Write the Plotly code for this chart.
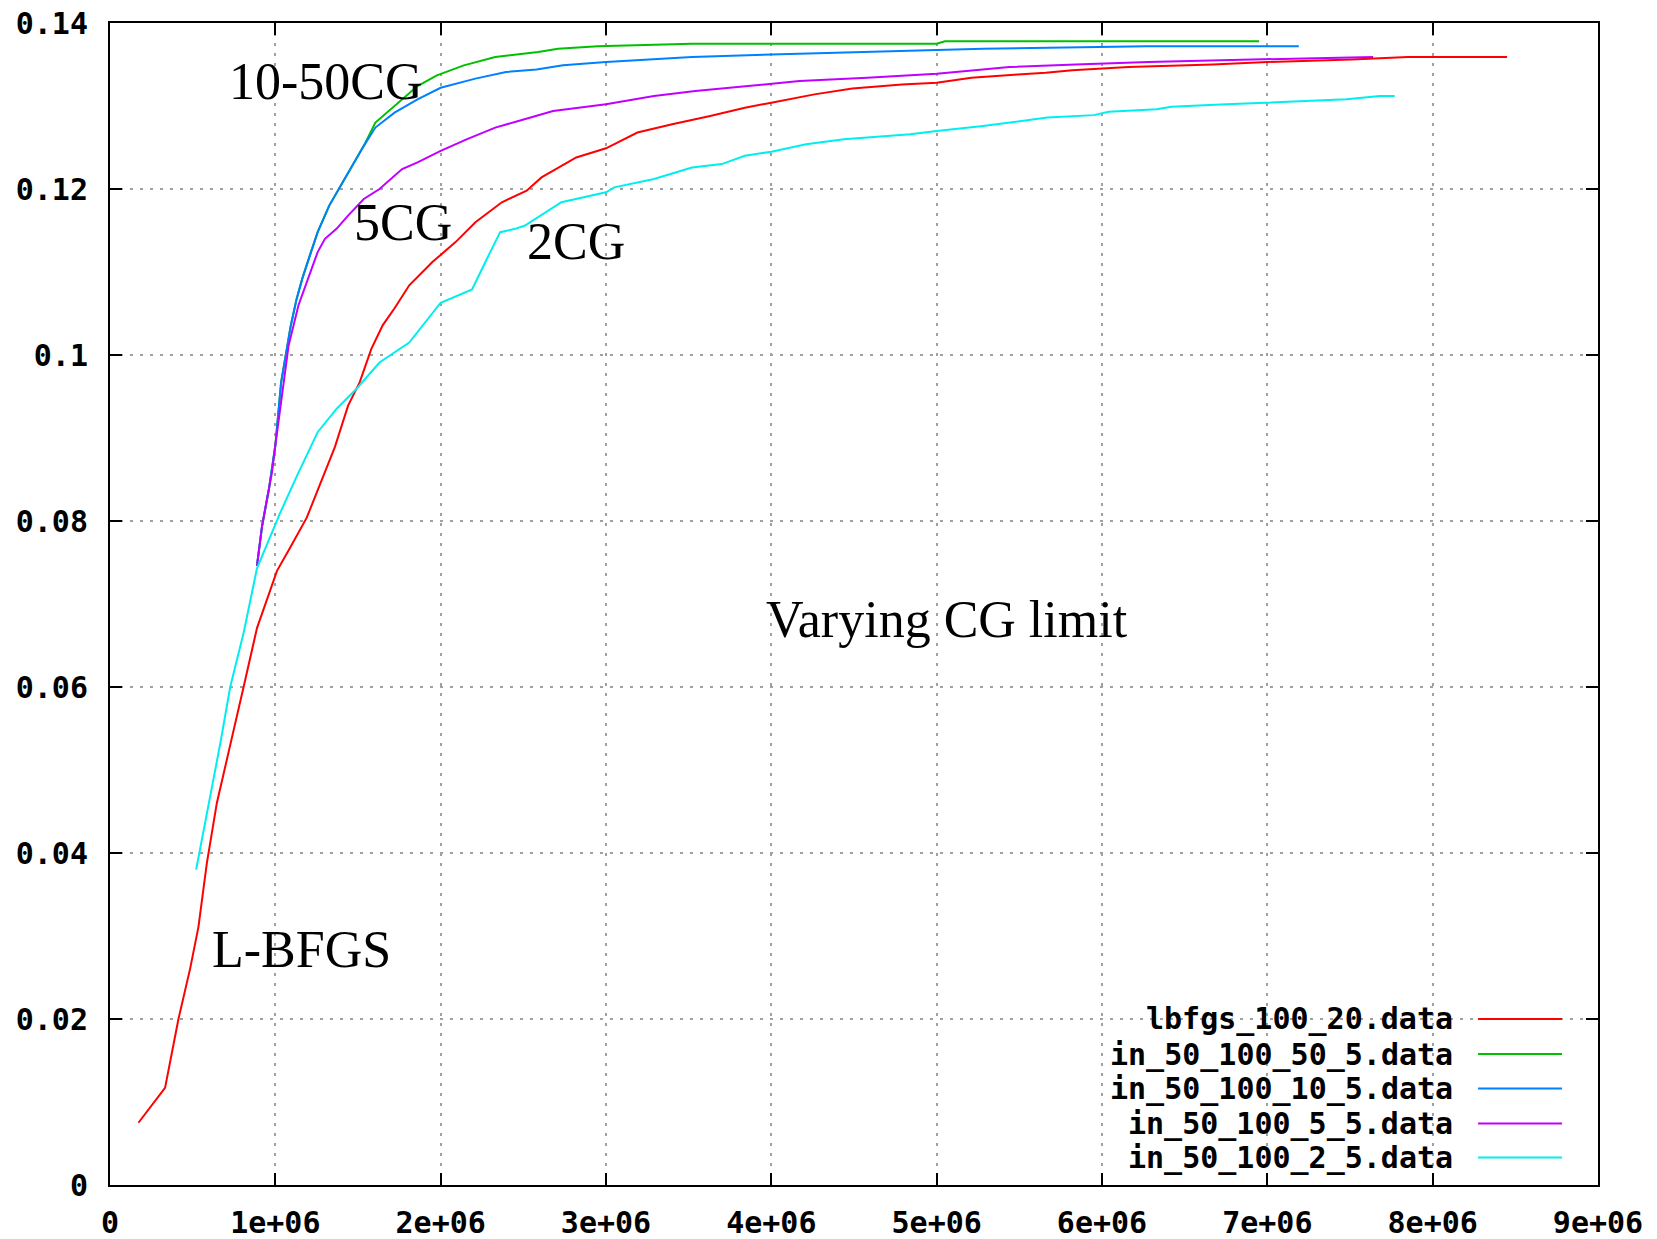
import plotly.graph_objects as go

# ---------------- data ----------------
series_names = ["lbfgs_100_20.data", "in_50_100_50_5.data", "in_50_100_10_5.data",
                "in_50_100_5_5.data", "in_50_100_2_5.data"]
series_colors = ["#ff0000", "#00c000", "#0080ff", "#c000ff", "#00eeee"]

lbfgs_x = [0.172, 0.333, 0.414, 0.485, 0.535, 0.586, 0.646, 0.727, 0.808, 0.889, 0.949, 1.01, 1.09,
           1.19, 1.29, 1.36, 1.44, 1.51, 1.58, 1.65, 1.72, 1.81, 1.95, 2.09, 2.21, 2.37, 2.52, 2.61,
           2.82, 3.0, 3.19, 3.4, 3.63, 3.84, 4.0, 4.26, 4.49, 4.79, 5.0, 5.21, 5.49, 5.66, 5.82, 6.16,
           6.67, 7.0, 7.51, 7.85, 8.45]
lbfgs_y = [0.0075, 0.0117, 0.020, 0.0261, 0.0311, 0.0388, 0.046, 0.0532, 0.060, 0.0671, 0.0704, 0.074,
           0.0768, 0.0804, 0.0854, 0.0889, 0.0939, 0.0967, 0.1007, 0.1036, 0.1056, 0.1084, 0.1112,
           0.1136, 0.116, 0.1184, 0.1198, 0.1214, 0.1238, 0.1249, 0.1268, 0.1278, 0.1288, 0.1298,
           0.1304, 0.1314, 0.1321, 0.1326, 0.1328, 0.1334, 0.1338, 0.134, 0.1343, 0.1347, 0.135,
           0.1353, 0.1356, 0.1359, 0.1359]

cg50_x = [0.889, 0.919, 0.96, 1.0, 1.035, 1.07, 1.093, 1.128, 1.163, 1.209, 1.256, 1.326, 1.395,
          1.465, 1.535, 1.605, 1.721, 1.86, 1.977, 2.14, 2.33, 2.59, 2.71, 2.95, 3.52, 5.0, 5.05, 6.95]
cg50_y = [0.0746, 0.0793, 0.0837, 0.0891, 0.0967, 0.1011, 0.1035, 0.1067, 0.1092, 0.112, 0.1148,
          0.118, 0.1204, 0.1228, 0.1252, 0.128, 0.130, 0.1324, 0.1337, 0.1349, 0.1359, 0.1365,
          0.1369, 0.1372, 0.1375, 0.1375, 0.1378, 0.1378]

cg10_x = [0.889, 0.919, 0.96, 1.0, 1.035, 1.07, 1.093, 1.128, 1.163, 1.209, 1.256, 1.326, 1.395,
          1.465, 1.535, 1.605, 1.721, 1.86, 2.0, 2.21, 2.395, 2.58, 2.74, 3.0, 3.25, 3.52, 4.0, 4.51,
          5.28, 6.27, 7.19]
cg10_y = [0.0746, 0.0793, 0.0837, 0.0891, 0.0967, 0.1011, 0.1035, 0.1067, 0.1092, 0.112, 0.1148,
          0.118, 0.1204, 0.1228, 0.1252, 0.1274, 0.1292, 0.1308, 0.1322, 0.1333, 0.1341, 0.1344,
          0.1349, 0.1353, 0.1356, 0.1359, 0.1362, 0.1365, 0.1369, 0.1372, 0.1372]

cg5_x = [0.889, 0.919, 0.939, 0.96, 0.98, 1.0, 1.08, 1.14, 1.21, 1.256, 1.30, 1.37, 1.44, 1.535,
         1.63, 1.767, 1.86, 2.0, 2.16, 2.33, 2.47, 2.68, 3.0, 3.29, 3.54, 3.91, 4.17, 4.58, 5.0,
         5.23, 5.44, 5.84, 6.28, 6.91, 7.53, 7.64]
cg5_y = [0.0746, 0.0793, 0.0815, 0.0837, 0.0859, 0.0891, 0.1011, 0.106, 0.11, 0.1124, 0.114,
         0.1152, 0.1168, 0.1188, 0.12, 0.1224, 0.1232, 0.1246, 0.126, 0.1274, 0.1282, 0.1294,
         0.1302, 0.1312, 0.1318, 0.1325, 0.133, 0.1334, 0.1339, 0.1343, 0.1347, 0.135, 0.1353,
         0.1356, 0.1359, 0.1359]

cg2_x = [0.521, 0.545, 0.606, 0.667, 0.727, 0.808, 0.889, 0.97, 1.03, 1.13, 1.21, 1.256, 1.37,
         1.49, 1.63, 1.81, 2.0, 2.19, 2.28, 2.36, 2.45, 2.51, 2.73, 3.0, 3.05, 3.29, 3.52, 3.7,
         3.84, 4.0, 4.21, 4.44, 4.84, 5.0, 5.28, 5.58, 5.67, 5.95, 6.04, 6.33, 6.42, 6.75, 7.12,
         7.48, 7.68, 7.77]
cg2_y = [0.038, 0.0405, 0.0466, 0.0532, 0.060, 0.0665, 0.0743, 0.0782, 0.081, 0.0854, 0.0889,
         0.0907, 0.0935, 0.0959, 0.0991, 0.1015, 0.1063, 0.1079, 0.1116, 0.1148, 0.1152, 0.1156,
         0.1184, 0.1196, 0.1202, 0.1212, 0.1226, 0.123, 0.124, 0.1245, 0.1254, 0.126, 0.1266,
         0.127, 0.1276, 0.1283, 0.1286, 0.1289, 0.1293, 0.1296, 0.1299, 0.1302, 0.1305, 0.1308,
         0.1312, 0.1312]

x_scale = 1e6  # x values above are in millions

x_tick_vals = [0, 1e6, 2e6, 3e6, 4e6, 5e6, 6e6, 7e6, 8e6, 9e6]
x_tick_text = ["0", "1e+06", "2e+06", "3e+06", "4e+06", "5e+06", "6e+06", "7e+06", "8e+06", "9e+06"]
y_tick_vals = [0, 0.02, 0.04, 0.06, 0.08, 0.1, 0.12, 0.14]
y_tick_text = ["0", "0.02", "0.04", "0.06", "0.08", "0.1", "0.12", "0.14"]

label_texts = ["10-50CG", "5CG", "2CG", "Varying CG limit", "L-BFGS"]
label_x = [0.708e6, 1.464e6, 2.51e6, 3.956e6, 0.605e6]
label_y = [0.133, 0.116, 0.1137, 0.0681, 0.0284]

# ---------------- figure ----------------
xs = [lbfgs_x, cg50_x, cg10_x, cg5_x, cg2_x]
ys = [lbfgs_y, cg50_y, cg10_y, cg5_y, cg2_y]

fig = go.Figure()
for name, col, xv, yv in zip(series_names, series_colors, xs, ys):
    fig.add_trace(go.Scatter(x=[v * x_scale for v in xv], y=yv, mode="lines", name=name,
                             line=dict(color=col, width=2), showlegend=False))

tick_font = dict(family="DejaVu Sans Mono", size=30, color="black", weight="bold")

# custom gnuplot-style legend (text right, line sample right of text)
leg_row_y = [0.1429, 0.1127, 0.0830, 0.0529, 0.0237]
shapes = []
annotations = []
for name, col, ry in zip(series_names, series_colors, leg_row_y):
    annotations.append(dict(x=0.9039, y=ry, xref="paper", yref="paper", text=name,
                            showarrow=False, xanchor="right", yanchor="middle", font=tick_font))
    shapes.append(dict(type="line", xref="paper", yref="paper", x0=0.9194, x1=0.9758,
                       y0=ry, y1=ry, line=dict(color=col, width=2)))

for t, lx, ly in zip(label_texts, label_x, label_y):
    annotations.append(dict(x=lx, y=ly, xref="x", yref="y", text=t, showarrow=False,
                            xanchor="left", yanchor="middle",
                            font=dict(family="Liberation Serif", size=52, color="black")))

fig.update_layout(
    width=1657, height=1239,
    margin=dict(l=110, r=59, t=23, b=54, autoexpand=False),
    paper_bgcolor="white", plot_bgcolor="white",
    annotations=annotations, shapes=shapes,
    showlegend=False,
)
fig.update_xaxes(range=[0, 9e6], tickvals=x_tick_vals, ticktext=x_tick_text, tickfont=tick_font,
                 showline=True, linecolor="black", linewidth=2, mirror="ticks",
                 ticks="inside", ticklen=12, tickwidth=2, tickcolor="black",
                 showgrid=True, gridcolor="#a0a0a0", gridwidth=2, griddash="3px,7px",
                 zeroline=False, ticklabelstandoff=10, automargin=False)
fig.update_yaxes(range=[0, 0.14], tickvals=y_tick_vals, ticktext=y_tick_text, tickfont=tick_font,
                 showline=True, linecolor="black", linewidth=2, mirror="ticks",
                 ticks="inside", ticklen=12, tickwidth=2, tickcolor="black",
                 showgrid=True, gridcolor="#a0a0a0", gridwidth=2, griddash="3px,7px",
                 zeroline=False, ticklabelstandoff=14, automargin=False)

fig.write_html("out.html")
